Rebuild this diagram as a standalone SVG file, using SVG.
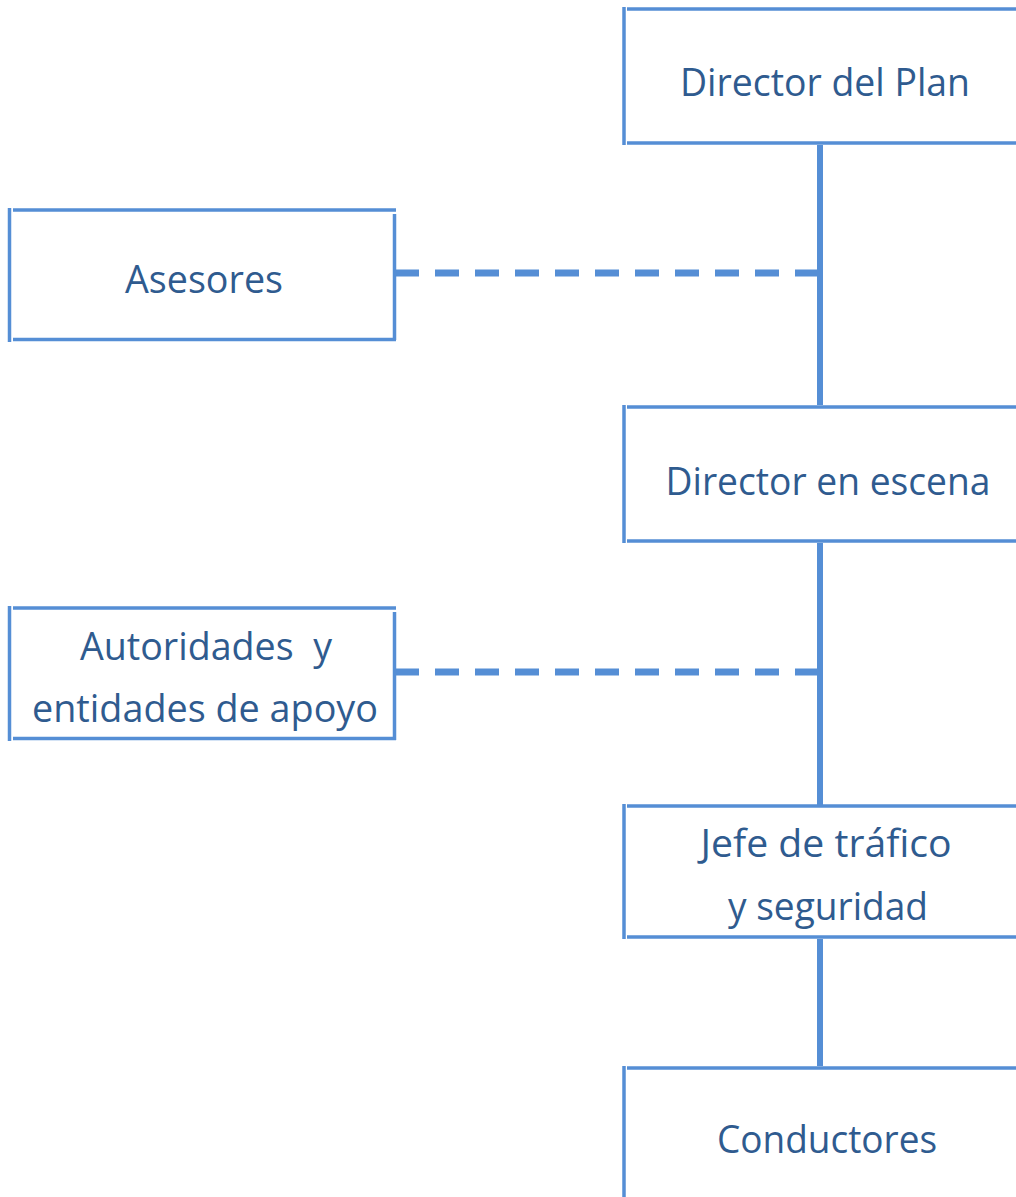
<svg xmlns="http://www.w3.org/2000/svg" width="1016" height="1197" viewBox="0 0 1016 1197">
<style>
.b{stroke:#558ED5;stroke-width:3.5;fill:none}
.c{stroke:#558ED5;stroke-width:6;fill:none}
.d{stroke:#558ED5;stroke-width:7;fill:none;stroke-dasharray:24 16}
text{font-family:"Open Sans","Noto Sans",sans-serif;font-size:38px;fill:#2F5B8F;text-anchor:middle}
</style>
<rect width="1016" height="1197" fill="#fff"/>
<g id="connectors">
<line class="c" x1="820" y1="145" x2="820" y2="405"/>
<line class="c" x1="820" y1="543" x2="820" y2="805"/>
<line class="c" x1="820" y1="939" x2="820" y2="1066"/>
<line class="d" x1="395" y1="273" x2="820" y2="273"/>
<line class="d" x1="395" y1="672" x2="820" y2="672"/>
</g>
<g id="director-plan">
<path class="b" d="M624 7V145M627 9H1016M627 143H1016"/>
<text x="825" y="96" textLength="290" lengthAdjust="spacingAndGlyphs">Director del Plan</text>
</g>
<g id="asesores">
<path class="b" d="M9.5 208V342M13 210H396M394.5 214V340M13 339.5H396"/>
<text x="204" y="293" textLength="158" lengthAdjust="spacingAndGlyphs">Asesores</text>
</g>
<g id="director-escena">
<path class="b" d="M624 405V543M627 407H1016M627 541H1016"/>
<text x="828" y="495" textLength="325" lengthAdjust="spacingAndGlyphs">Director en escena</text>
</g>
<g id="autoridades">
<path class="b" d="M9.5 606V741M13 608H396M394.5 612V740M13 738.5H396"/>
<text x="206" y="660" textLength="252" lengthAdjust="spacingAndGlyphs" xml:space="preserve">Autoridades  y</text>
<text x="205" y="722" textLength="346" lengthAdjust="spacingAndGlyphs">entidades de apoyo</text>
</g>
<g id="jefe">
<path class="b" d="M624 804V939M627 806H1016M627 937H1016"/>
<text x="826" y="857" textLength="251" lengthAdjust="spacingAndGlyphs">Jefe de tráfico</text>
<text x="828" y="920" textLength="200" lengthAdjust="spacingAndGlyphs">y seguridad</text>
</g>
<g id="conductores">
<path class="b" d="M624 1066V1197M627 1068H1016"/>
<text x="827" y="1153" textLength="220" lengthAdjust="spacingAndGlyphs">Conductores</text>
</g>
</svg>
